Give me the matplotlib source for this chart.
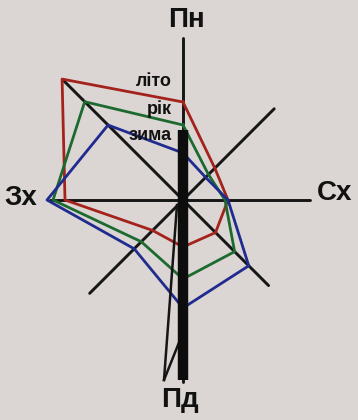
import numpy as np
import matplotlib
matplotlib.use("Agg")
import matplotlib.pyplot as plt

# directions: N, NE, E, SE, S, SW, W, NW
directions = ["Пн", "Пн-Сх", "Сх", "Пд-Сх", "Пд", "Пд-Зх", "Зх", "Пн-Зх"]
axis_len = [162, 129, 127, 121, 182, 132, 133, 170]
summer = [98, 45, 45, 46, 47, 43, 118, 171]     # літо
year = [75, 36, 42, 73, 79, 59, 130, 139]       # рік
winter = [47, 32, 45, 93, 108, 69, 136, 106]    # зима
series_names = ["літо", "рік", "зима"]
calm_bar = [70, 180]  # thick black bar: from north value to south value

angles = np.deg2rad(np.arange(8) * 45.0)

def xy(r):
    r = np.asarray(r, float)
    return r * np.sin(angles), r * np.cos(angles)

W, H = 358, 420
fig = plt.figure(figsize=(W / 100, H / 100), dpi=100)
bg = "#dbd6d3"
fig.patch.set_facecolor(bg)
ax = fig.add_axes([0, 0, 1, 1])
ax.set_facecolor(bg)
ax.set_xlim(-183, W - 183)
ax.set_ylim(-(H - 200), 200)
ax.set_aspect("equal")
ax.axis("off")

# axes lines
ax_x, ax_y = xy(axis_len)
for i in range(8):
    ax.plot([0, ax_x[i]], [0, ax_y[i]], color="#151515", lw=2.1,
            solid_capstyle="round", zorder=2)

# thick black bar on N-S axis
ax.plot([0, 0], [calm_bar[0], -calm_bar[1]], color="#0d0d0d", lw=7.5,
        solid_capstyle="butt", zorder=5)
# thin companion stroke to the south
ax.plot([-6, -19], [-5, -calm_bar[1]], color="#151515", lw=1.8, zorder=4)
ax.plot([-19, -3], [-calm_bar[1], -140], color="#151515", lw=1.8, zorder=4)

colors = ["#a3231c", "#1d6a30", "#1f2b8e"]
for vals, c in zip([summer, year, winter], colors):
    px, py = xy(vals)
    px = np.append(px, px[0]); py = np.append(py, py[0])
    ax.plot(px, py, color=c, lw=2.0, zorder=3, solid_joinstyle="round")

# direction labels
lab_kw = dict(fontsize=20, fontweight="bold", color="#111111",
              family="Liberation Sans", ha="center", va="center")
ax.text(3, 180, directions[0], **lab_kw)
ax.text(-3, -200, directions[4], **lab_kw)
ax.text(152, 7, directions[2], **lab_kw)
ax.text(-162, 2, directions[6], **lab_kw)

# series labels
s_kw = dict(fontsize=13, fontweight="bold", color="#111111",
            family="Liberation Sans", ha="right", va="center")
ax.text(-11, 119, series_names[0], **s_kw)
ax.text(-11, 91, series_names[1], **s_kw)
ax.text(-11, 64, series_names[2], **s_kw)

fig.savefig("out.png", dpi=100, facecolor=bg)
